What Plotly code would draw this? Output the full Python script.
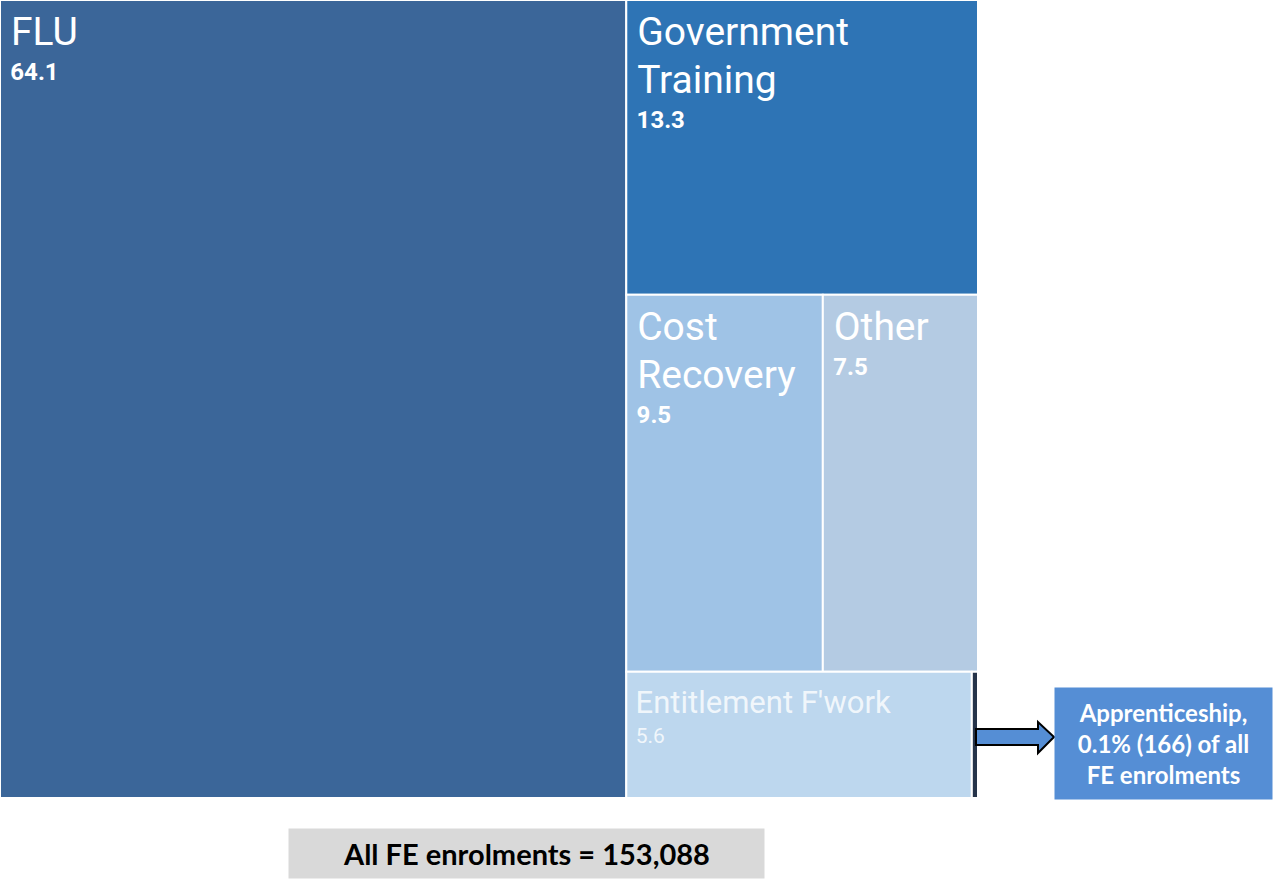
import plotly.graph_objects as go

# ---- data ----
categories = ["FLU", "Government Training", "Cost Recovery", "Other", "Entitlement F'work", "Apprenticeship"]
display_labels = ["FLU", "Government<br>Training", "Cost<br>Recovery", "Other", "Entitlement F'work", ""]
shares = [64.1, 13.3, 9.5, 7.5, 5.6, 0.1]
parents = [""] * len(categories)
total_enrolments = "153,088"
apprenticeship_note = "Apprenticeship,<br>0.1% (166) of all<br>FE enrolments"

# ---- style ----
tile_colors = ["#3B6699", "#2E74B5", "#9FC3E6", "#B4CBE3", "#BDD7EE", "#26344A"]
text_colors = ["#FFFFFF", "#FFFFFF", "#FFFFFF", "#FFFFFF", "rgba(255,255,255,0.8)", "#FFFFFF"]
label_px = [39, 39, 39, 39, 31, 0]
value_px = [24, 24, 24, 24, 21, 0]
value_bold = [True, True, True, True, False, False]
top_steps = [9, 9, 9, 9, 8, 0]      # offset of first label line from tile top
label_steps = 11                     # gap between wrapped label lines
value_steps = [8, 8, 8, 8, 7, 0]     # gap between label and value
W, H = 1273, 879

# text is built on a tiny base line height so line gaps can be tuned in small steps
BASE = 3.36          # base font size -> line step = 1.3 * BASE px

indent = "\u2009"
templates = []
for i, lab in enumerate(display_labels):
    if lab == "":
        templates.append("")
        continue
    lines = lab.split("<br>")
    parts = ["\u00a0" + "<br>" * top_steps[i]]
    for j, ln in enumerate(lines):
        if j > 0:
            parts.append("<br>" * label_steps)
        parts.append(f"<span style='font-size:{label_px[i]}px'>{indent}{ln}</span>")
    parts.append("<br>" * value_steps[i])
    val = f"{indent}\u200a%{{value}}"
    if value_bold[i]:
        val = f"<b>{val}</b>"
    parts.append(f"<span style='font-size:{value_px[i]}px'>{val}</span>")
    templates.append("".join(parts))

fig = go.Figure(go.Treemap(
    labels=categories,
    parents=parents,
    values=shares,
    texttemplate=templates,
    textposition="top left",
    textfont=dict(family="Roboto", color=text_colors, size=BASE),
    marker=dict(colors=tile_colors, line=dict(color="white", width=2),
                pad=dict(t=0, l=0, r=0, b=0)),
    root=dict(color="white"),
    tiling=dict(packing="squarify", squarifyratio=1.618, pad=0),
    pathbar=dict(visible=False),
    sort=True,
    domain=dict(x=[0, 978 / W], y=[(H - 798) / H, 1]),
    hoverinfo="none",
))

# block arrow from the apprenticeship sliver to the note box
def px_x(v):
    return v / W

def px_y(v):
    return 1 - v / H

pts = [(976, 729), (1038, 729), (1038, 722), (1054, 737), (1038, 753), (1038, 745), (976, 745)]
path = "M " + " L ".join(f"{px_x(a):.5f} {px_y(b):.5f}" for a, b in pts) + " Z"
fig.add_shape(
    type="path",
    xref="paper", yref="paper",
    path=path,
    fillcolor="#558ED5",
    line=dict(color="black", width=2),
)

fig.add_annotation(
    xref="paper", yref="paper",
    x=px_x((1054 + 1273) / 2), y=px_y((687 + 800) / 2),
    xanchor="center", yanchor="middle",
    text="<b>" + apprenticeship_note + "</b>",
    showarrow=False,
    font=dict(family="Lato", size=24, color="white"),
    bgcolor="#558ED5",
    width=217, height=111,
    borderpad=0,
    align="center",
)

fig.add_annotation(
    xref="paper", yref="paper",
    x=px_x((288 + 765) / 2), y=px_y((828 + 879) / 2),
    xanchor="center", yanchor="middle",
    text="<b>All FE enrolments = " + total_enrolments + "</b>",
    showarrow=False,
    font=dict(family="Lato", size=29, color="black"),
    bgcolor="#D9D9D9",
    width=475, height=49,
    borderpad=0,
)

fig.update_layout(
    width=W, height=H,
    margin=dict(l=0, r=0, t=0, b=0),
    paper_bgcolor="white",
    showlegend=False,
    hovermode=False,
)

fig.write_html("out.html", config={"displayModeBar": False},
               post_script="document.body.style.margin='0px';")
